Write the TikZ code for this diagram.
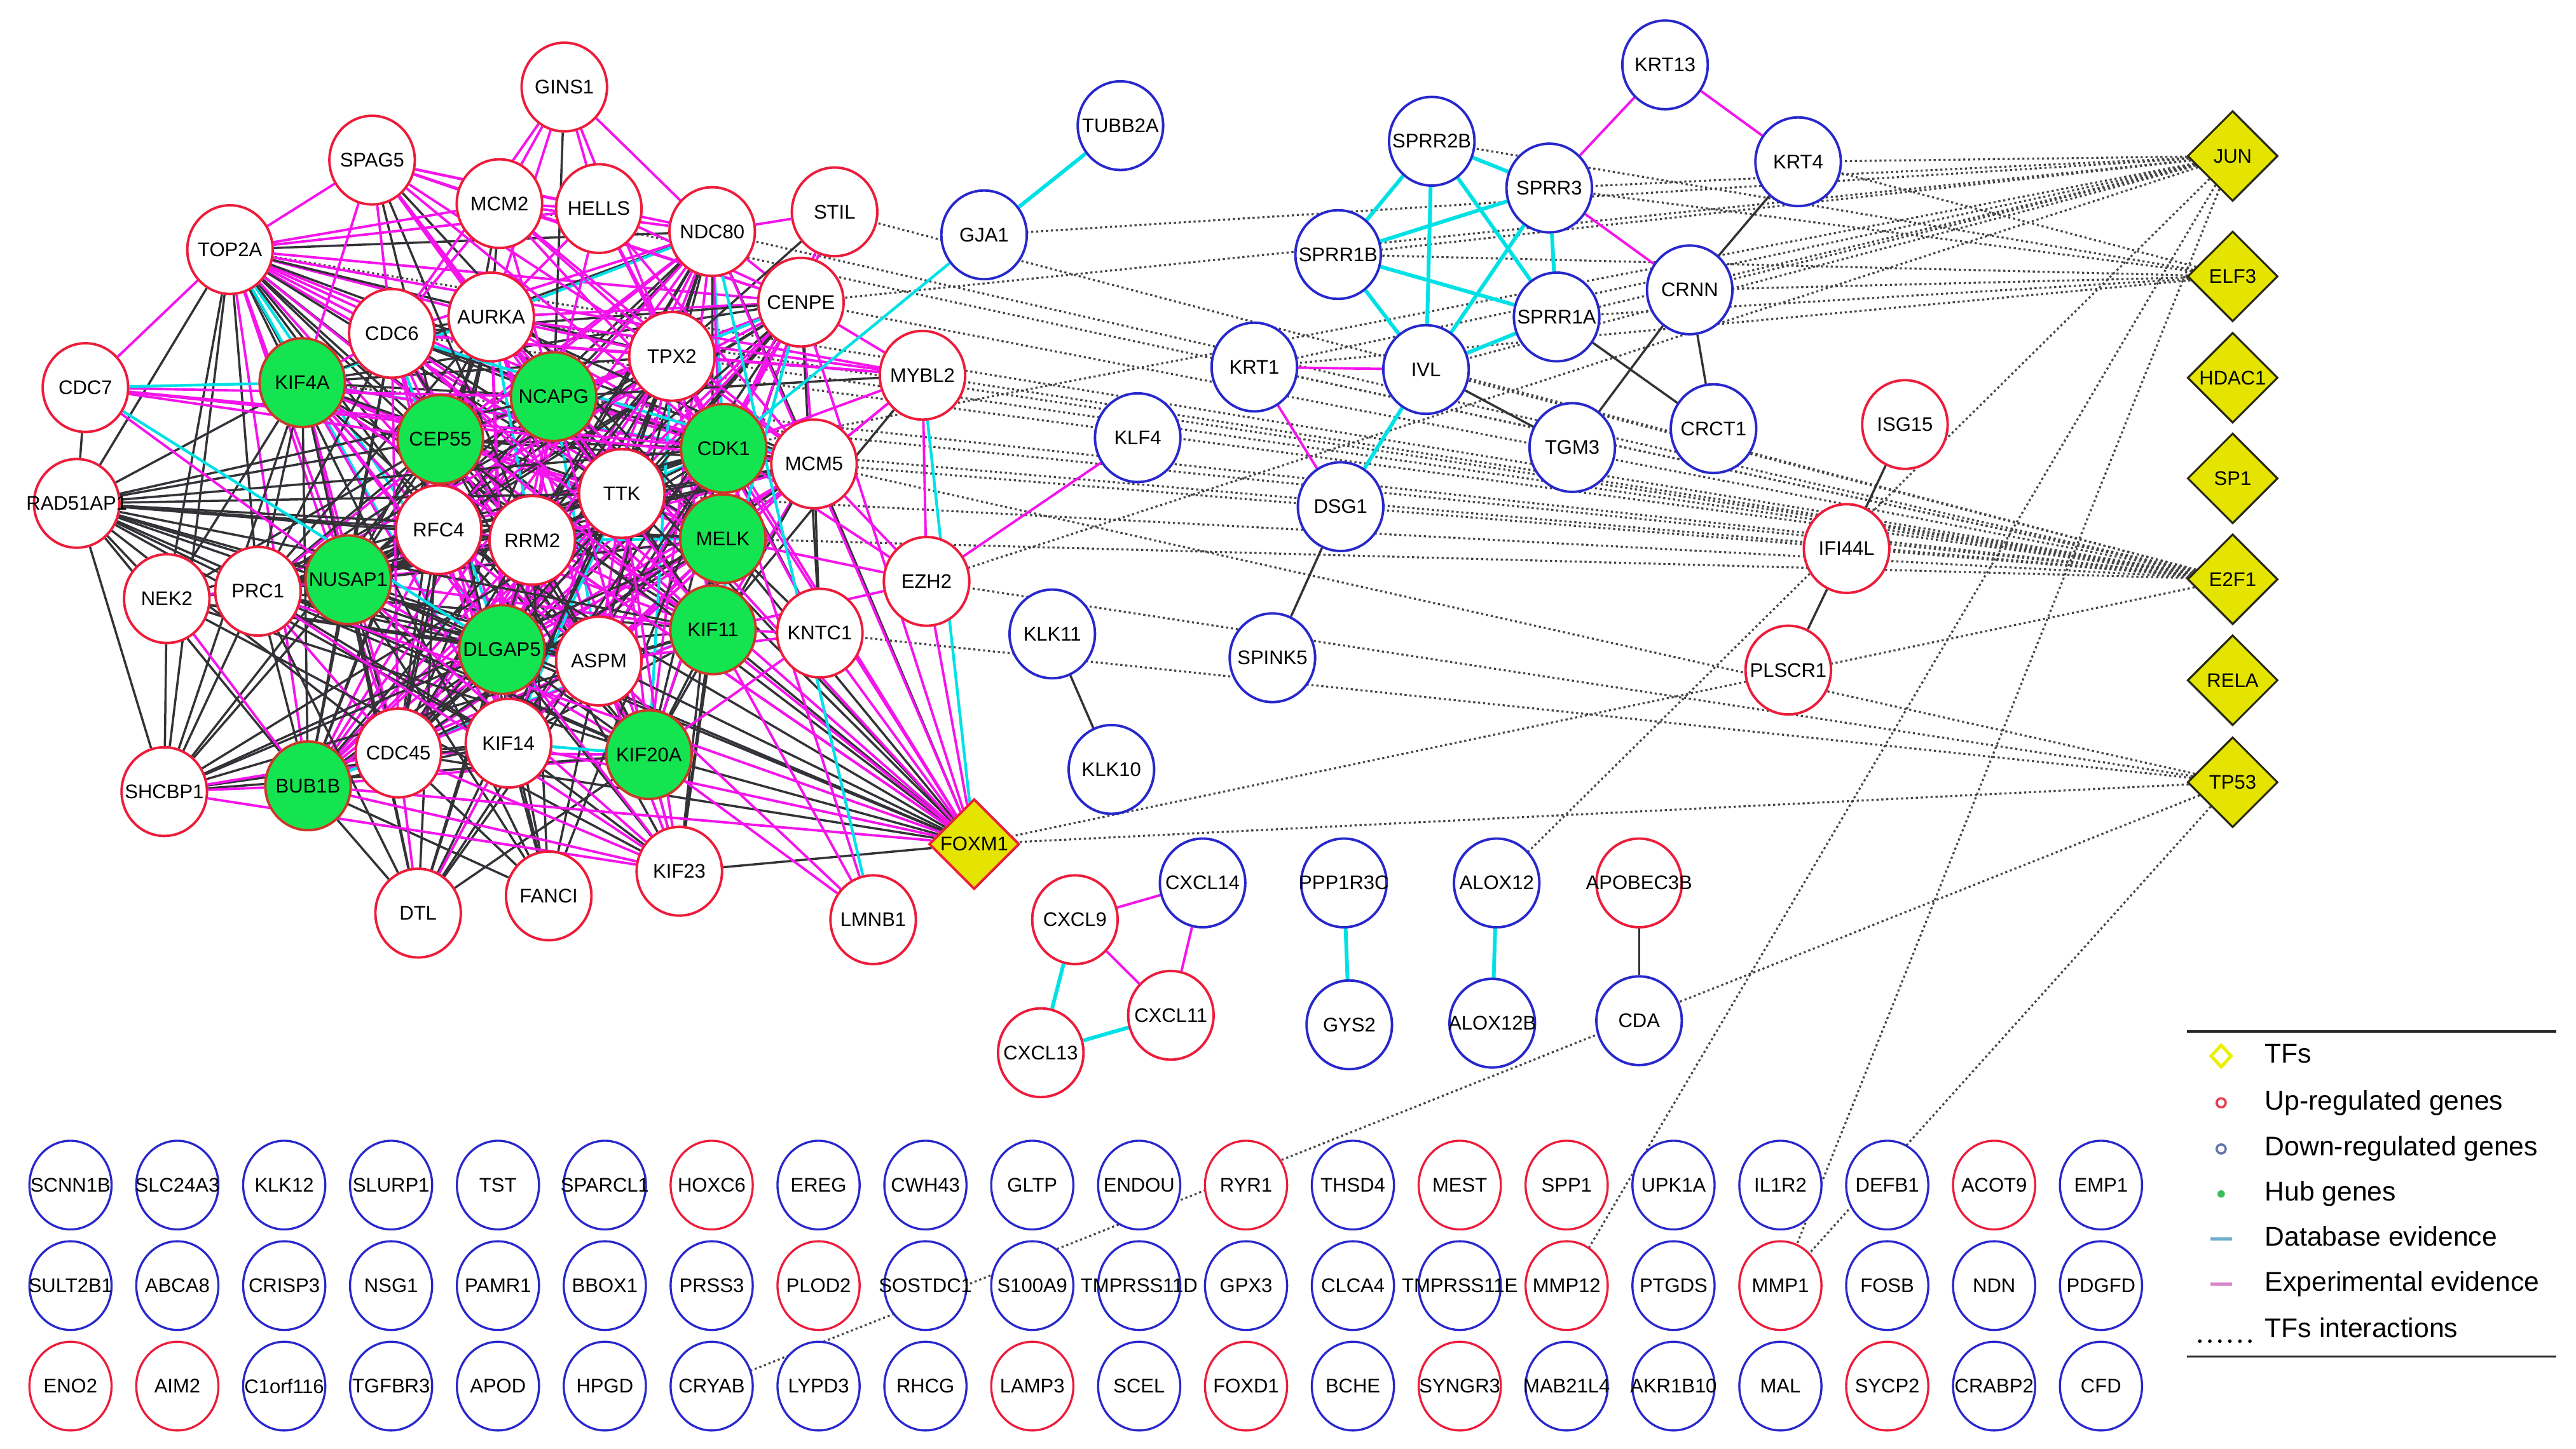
\documentclass[tikz,border=0pt]{standalone}
\usepackage{fontspec}
\setmainfont{Liberation Sans}
\usetikzlibrary{shapes.geometric}
\pgfdeclarelayer{bg}\pgfdeclarelayer{dots}\pgfdeclarelayer{edges}
\pgfsetlayers{bg,dots,edges,main}
\definecolor{upred}{RGB}{237,28,58}
\definecolor{downblue}{RGB}{40,40,205}
\definecolor{hubgreen}{RGB}{20,228,80}
\definecolor{hubborder}{RGB}{205,55,40}
\definecolor{tfyellow}{RGB}{228,228,0}
\definecolor{tfborder}{RGB}{40,40,20}
\definecolor{edgemag}{RGB}{245,20,235}
\definecolor{edgecyan}{RGB}{0,225,230}
\definecolor{edgegrey}{RGB}{50,50,55}
\definecolor{dotgrey}{RGB}{70,70,70}
\definecolor{legyellow}{RGB}{235,240,0}
\definecolor{legred}{RGB}{230,60,80}
\definecolor{legblue}{RGB}{100,120,170}
\definecolor{leggreen}{RGB}{60,190,90}
\definecolor{legcyan}{RGB}{110,175,205}
\definecolor{legmag}{RGB}{215,130,200}
\newcommand{\lblsize}{\fontsize{12}{13}\selectfont}
\newcommand{\legsize}{\fontsize{16.5}{18}\selectfont}
\newcommand{\glab}[1]{\makebox[0pt][c]{#1}}
\begin{document}
\begin{tikzpicture}[x=1pt,y=-1pt,
  gene/.style={ellipse, minimum width=52pt, minimum height=54pt, inner sep=0pt, line width=1.5pt, fill=white, font=\lblsize, text=black},
  up/.style={gene, draw=upred},
  down/.style={gene, draw=downblue},
  hub/.style={gene, draw=hubborder, fill=hubgreen},
  tfnode/.style={diamond, minimum width=55pt, minimum height=55pt, inner sep=0pt, line width=1.2pt, draw=tfborder, fill=tfyellow, font=\lblsize},
  foxm/.style={tfnode, draw=upred, line width=1.5pt},
  botgene/.style={ellipse, minimum width=50pt, minimum height=54pt, inner sep=0pt, line width=1.3pt, fill=white, font=\lblsize},
  magE/.style={draw=edgemag, line width=1.5pt},
  greyE/.style={draw=edgegrey, line width=1.35pt},
  cyanE/.style={draw=edgecyan, line width=1.7pt},
  cyanT/.style={draw=edgecyan, line width=2.3pt},
  tfE/.style={draw=dotgrey, line width=1.25pt, dash pattern=on 1.3pt off 1.7pt},
  legtext/.style={anchor=west, font=\legsize, inner sep=0pt, text height=12pt, text depth=3.5pt},
  legline/.style={draw=black!85, line width=1.3pt}
]
\useasboundingbox (0,0) rectangle (1568,882);
\begin{pgfonlayer}{bg}
\fill[white] (0,0) rectangle (1568,882);
\end{pgfonlayer}

% ---------------- left cluster ----------------
\node[up] (GINS1) at (343.5,53) {\glab{GINS1}};
\node[up] (SPAG5) at (226.5,97.5) {\glab{SPAG5}};
\node[up] (MCM2) at (304,124) {\glab{MCM2}};
\node[up] (HELLS) at (364.5,127) {\glab{HELLS}};
\node[up] (NDC80) at (433.5,141) {\glab{NDC80}};
\node[up] (STIL) at (508,129) {\glab{STIL}};
\node[up] (TOP2A) at (140,152) {\glab{TOP2A}};
\node[up] (CENPE) at (487.5,184) {\glab{CENPE}};
\node[up] (CDC6) at (238.5,203) {\glab{CDC6}};
\node[up] (AURKA) at (299,193) {\glab{AURKA}};
\node[up] (TPX2) at (409,217) {\glab{TPX2}};
\node[up] (CDC7) at (52,236) {\glab{CDC7}};
\node[hub] (KIF4A) at (184,233) {\glab{KIF4A}};
\node[hub] (NCAPG) at (337,241.5) {\glab{NCAPG}};
\node[hub] (CEP55) at (268,267.5) {\glab{CEP55}};
\node[hub] (CDK1) at (440.5,273) {\glab{CDK1}};
\node[up] (MYBL2) at (561.5,228.5) {\glab{MYBL2}};
\node[up] (MCM5) at (495.5,282.5) {\glab{MCM5}};
\node[up] (TTK) at (378.5,300.5) {\glab{TTK}};
\node[up] (RAD51AP) at (46.7,306.5) {\glab{RAD51AP1}};
\node[up] (RFC4) at (267,322.5) {\glab{RFC4}};
\node[up] (RRM2) at (324,329) {\glab{RRM2}};
\node[hub] (MELK) at (440,328) {\glab{MELK}};
\node[up] (NEK2) at (101.5,364.5) {\glab{NEK2}};
\node[up] (PRC1) at (157,360) {\glab{PRC1}};
\node[hub] (NUSAP1) at (212,353) {\glab{NUSAP1}};
\node[up] (EZH2) at (564,354) {\glab{EZH2}};
\node[hub] (KIF11) at (434,383.5) {\glab{KIF11}};
\node[up] (KNTC1) at (499,385.5) {\glab{KNTC1}};
\node[hub] (DLGAP5) at (305.5,395.5) {\glab{DLGAP5}};
\node[up] (ASPM) at (364.5,402.5) {\glab{ASPM}};
\node[up] (KIF14) at (309.5,452.5) {\glab{KIF14}};
\node[up] (CDC45) at (242.5,458.5) {\glab{CDC45}};
\node[hub] (KIF20A) at (395,459.5) {\glab{KIF20A}};
\node[hub] (BUB1B) at (187.5,478.5) {\glab{BUB1B}};
\node[up] (SHCBP1) at (100,482) {\glab{SHCBP1}};
\node[foxm] (FOXM1) at (593,514) {\glab{FOXM1}};
\node[up] (KIF23) at (413.5,530.5) {\glab{KIF23}};
\node[up] (FANCI) at (334,545.5) {\glab{FANCI}};
\node[up] (DTL) at (254.5,556) {\glab{DTL}};
\node[up] (LMNB1) at (531.5,560) {\glab{LMNB1}};

% ---------------- right / middle ----------------
\node[down] (TUBB2A) at (682,76.5) {\glab{TUBB2A}};
\node[down] (GJA1) at (599,143) {\glab{GJA1}};
\node[down] (SPRR2B) at (871.5,86) {\glab{SPRR2B}};
\node[down] (KRT13) at (1013.5,39.5) {\glab{KRT13}};
\node[down] (SPRR3) at (943,114.5) {\glab{SPRR3}};
\node[down] (KRT4) at (1094.5,98.5) {\glab{KRT4}};
\node[down] (SPRR1B) at (814.5,155) {\glab{SPRR1B}};
\node[down] (SPRR1A) at (947.5,193) {\glab{SPRR1A}};
\node[down] (CRNN) at (1028.5,176.5) {\glab{CRNN}};
\node[down] (KRT1) at (763.5,223.5) {\glab{KRT1}};
\node[down] (IVL) at (868,225) {\glab{IVL}};
\node[down] (TGM3) at (957,272.5) {\glab{TGM3}};
\node[down] (CRCT1) at (1043,261) {\glab{CRCT1}};
\node[down] (KLF4) at (692.5,266.5) {\glab{KLF4}};
\node[down] (DSG1) at (816,308.5) {\glab{DSG1}};
\node[down] (KLK11) at (640.5,386) {\glab{KLK11}};
\node[down] (SPINK5) at (774.5,400.5) {\glab{SPINK5}};
\node[down] (KLK10) at (676.5,468.5) {\glab{KLK10}};
\node[up] (ISG15) at (1159.5,258.5) {\glab{ISG15}};
\node[up] (IFI44L) at (1124,334) {\glab{IFI44L}};
\node[up] (PLSCR1) at (1088.5,408) {\glab{PLSCR1}};

\node[tfnode] (JUN) at (1359,95) {\glab{JUN}};
\node[tfnode] (ELF3) at (1359,168.3) {\glab{ELF3}};
\node[tfnode] (HDAC1) at (1359,230) {\glab{HDAC1}};
\node[tfnode] (SP1) at (1359,291.3) {\glab{SP1}};
\node[tfnode] (E2F1) at (1359,352.7) {\glab{E2F1}};
\node[tfnode] (RELA) at (1359,414.2) {\glab{RELA}};
\node[tfnode] (TP53) at (1359,476.3) {\glab{TP53}};

\node[down] (CXCL14) at (732,537.6) {\glab{CXCL14}};
\node[up] (CXCL9) at (654.3,560) {\glab{CXCL9}};
\node[up] (CXCL11) at (712.7,618.2) {\glab{CXCL11}};
\node[up] (CXCL13) at (633.5,641) {\glab{CXCL13}};
\node[down] (PPP1R3C) at (818,537.6) {\glab{PPP1R3C}};
\node[down] (GYS2) at (821.3,624) {\glab{GYS2}};
\node[down] (ALOX12) at (911,537.6) {\glab{ALOX12}};
\node[down] (ALOX12B) at (908.3,623) {\glab{ALOX12B}};
\node[up] (APOBEC3B) at (997.7,537.6) {\glab{APOBEC3B}};
\node[down] (CDA) at (997.7,621.5) {\glab{CDA}};

% ---------------- bottom rows ----------------
\foreach \n/\cl [count=\k from 0] in {SCNN1B/downblue, SLC24A3/downblue, KLK12/downblue, SLURP1/downblue, TST/downblue, SPARCL1/downblue, HOXC6/upred, EREG/downblue, CWH43/downblue, GLTP/downblue, ENDOU/downblue, RYR1/upred, THSD4/downblue, MEST/upred, SPP1/upred, UPK1A/downblue, IL1R2/downblue, DEFB1/downblue, ACOT9/upred, EMP1/downblue}
  \node[botgene, draw=\cl] (\n) at ({42.9+65.05*\k},721.6) {\glab{\n}};
\foreach \n/\cl [count=\k from 0] in {SULT2B1/downblue, ABCA8/downblue, CRISP3/downblue, NSG1/downblue, PAMR1/downblue, BBOX1/downblue, PRSS3/downblue, PLOD2/upred, SOSTDC1/downblue, S100A9/downblue, TMPRSS11D/downblue, GPX3/downblue, CLCA4/downblue, TMPRSS11E/downblue, MMP12/upred, PTGDS/downblue, MMP1/upred, FOSB/downblue, NDN/downblue, PDGFD/downblue}
  \node[botgene, draw=\cl] (\n) at ({42.9+65.05*\k},782.8) {\glab{\n}};
\foreach \n/\cl [count=\k from 0] in {ENO2/upred, AIM2/upred, C1orf116/downblue, TGFBR3/downblue, APOD/downblue, HPGD/downblue, CRYAB/downblue, LYPD3/downblue, RHCG/downblue, LAMP3/upred, SCEL/downblue, FOXD1/upred, BCHE/downblue, SYNGR3/upred, MAB21L4/downblue, AKR1B10/downblue, MAL/downblue, SYCP2/upred, CRABP2/downblue, CFD/downblue}
  \node[botgene, draw=\cl] (\n) at ({42.9+65.05*\k},844) {\glab{\n}};

% ---------------- TF interactions (dotted) ----------------
\begin{pgfonlayer}{dots}
\foreach \a/\b in {JUN/KRT4, JUN/SPRR3, JUN/SPRR1B, JUN/GJA1, JUN/CRNN, JUN/SPRR1A, JUN/IVL, JUN/KRT1, JUN/CDK1, JUN/CENPE, JUN/EZH2, JUN/ALOX12, JUN/MMP12, JUN/MMP1,
  ELF3/KRT4, ELF3/SPRR3, ELF3/SPRR2B, ELF3/SPRR1B, ELF3/CRNN, ELF3/SPRR1A, ELF3/KRT1,
  E2F1/MYBL2, E2F1/MCM5, E2F1/CDK1, E2F1/CENPE, E2F1/STIL, E2F1/NDC80, E2F1/TOP2A, E2F1/CDC6, E2F1/AURKA, E2F1/TPX2, E2F1/TTK, E2F1/MELK, E2F1/MCM2, E2F1/NCAPG, E2F1/KIF4A, E2F1/IVL, E2F1/KRT1, E2F1/FOXM1,
  TP53/MCM5, TP53/EZH2, TP53/KNTC1, TP53/FOXM1, TP53/MMP1, TP53/CRYAB}
  \draw[tfE] (\a) -- (\b);
\end{pgfonlayer}

% ---------------- solid edges ----------------
\begin{pgfonlayer}{edges}
\foreach \a [count=\i] in {TOP2A,KIF4A,CEP55,NCAPG,CDK1,MELK,KIF11,KIF20A,DLGAP5,NUSAP1,BUB1B,TTK,RRM2,RFC4,ASPM,AURKA,CDC6,TPX2,PRC1,KIF14,CDC45,CENPE,NDC80,MCM5}{
  \foreach \b [count=\j] in {TOP2A,KIF4A,CEP55,NCAPG,CDK1,MELK,KIF11,KIF20A,DLGAP5,NUSAP1,BUB1B,TTK,RRM2,RFC4,ASPM,AURKA,CDC6,TPX2,PRC1,KIF14,CDC45,CENPE,NDC80,MCM5}{
    \ifnum\j>\i\relax
      \pgfmathtruncatemacro\hcol{mod(\i*\j+3*\i+\j,11)}
      \ifnum\hcol<5\relax \draw[magE] (\a) -- (\b);
      \else\ifnum\hcol<10\relax \draw[greyE] (\a) -- (\b);
      \else \draw[cyanE] (\a) -- (\b);
      \fi\fi
    \fi
  }
}
\foreach \a/\b in {GINS1/NCAPG, SPAG5/CEP55, SPAG5/MELK, SPAG5/RRM2, MCM2/AURKA, MCM2/RFC4, STIL/TPX2, CDC7/RAD51AP,
  RAD51AP/TOP2A, RAD51AP/NEK2, RAD51AP/SHCBP1, RAD51AP/KIF4A, RAD51AP/CEP55, RAD51AP/NCAPG, RAD51AP/CDK1, RAD51AP/MELK, RAD51AP/NUSAP1, RAD51AP/DLGAP5, RAD51AP/RFC4, RAD51AP/RRM2, RAD51AP/TTK, RAD51AP/KIF11, RAD51AP/BUB1B, RAD51AP/PRC1, RAD51AP/ASPM, RAD51AP/KIF20A, RAD51AP/KIF14, RAD51AP/CDC45,
  NEK2/SHCBP1, NEK2/PRC1, NEK2/KIF4A, NEK2/CEP55, NEK2/DLGAP5, NEK2/KIF20A, NEK2/TOP2A, NEK2/CDK1, NEK2/ASPM, NEK2/KIF23,
  SHCBP1/PRC1, SHCBP1/NUSAP1, SHCBP1/KIF4A, SHCBP1/CEP55, SHCBP1/DLGAP5, SHCBP1/KIF14, SHCBP1/KIF20A, SHCBP1/CDK1, SHCBP1/TOP2A, SHCBP1/MELK, SHCBP1/KIF11,
  DTL/BUB1B, DTL/NUSAP1, DTL/DLGAP5, DTL/CEP55, DTL/RRM2, DTL/KIF4A, DTL/TTK, DTL/ASPM, DTL/CDK1, DTL/KIF20A, DTL/PRC1,
  FANCI/BUB1B, FANCI/CDC45, FANCI/DLGAP5, FANCI/NUSAP1, FANCI/RRM2, FANCI/CDK1, FANCI/KIF14, FANCI/ASPM, FANCI/TOP2A, FANCI/CEP55,
  KIF23/KIF20A, KIF23/KIF11, KIF23/KIF14, KIF23/DLGAP5, KIF23/CDK1, KIF23/MELK, KIF23/CEP55, KIF23/FOXM1,
  MYBL2/NCAPG, MYBL2/KIF11, KNTC1/MCM5, KNTC1/CDK1, KNTC1/MELK, KNTC1/CENPE,
  FOXM1/MCM5, FOXM1/KIF20A, FOXM1/ASPM, FOXM1/DLGAP5, FOXM1/NUSAP1, FOXM1/CEP55, FOXM1/KIF11, FOXM1/MELK, FOXM1/CDC45, FOXM1/TTK, FOXM1/RFC4, FOXM1/NCAPG,
  KRT4/CRNN, CRNN/TGM3, CRNN/CRCT1, SPRR1A/CRCT1, IVL/TGM3, DSG1/SPINK5, KLK11/KLK10, ISG15/IFI44L, IFI44L/PLSCR1, APOBEC3B/CDA}
  \draw[greyE] (\a) -- (\b);
\foreach \a/\b in {GINS1/MCM2, GINS1/AURKA, GINS1/HELLS, GINS1/TPX2, GINS1/CDC6, GINS1/NDC80,
  SPAG5/TOP2A, SPAG5/CDC6, SPAG5/KIF4A, SPAG5/AURKA, SPAG5/NCAPG, SPAG5/CDK1, SPAG5/TTK, SPAG5/NDC80, SPAG5/CENPE, SPAG5/KIF11, SPAG5/TPX2, SPAG5/MCM2, SPAG5/HELLS,
  MCM2/NCAPG, MCM2/CDC6, MCM2/CDK1, MCM2/TPX2, MCM2/MCM5, MCM2/CENPE, MCM2/TOP2A, MCM2/HELLS, MCM2/NDC80,
  HELLS/TPX2, HELLS/CDK1, HELLS/NCAPG, HELLS/CENPE, HELLS/MCM5, HELLS/AURKA, HELLS/TOP2A,
  STIL/CENPE, STIL/CDK1, STIL/NDC80,
  CDC7/TOP2A, CDC7/CEP55, CDC7/NUSAP1, CDC7/CDK1, CDC7/MCM5, CDC7/NCAPG,
  NEK2/BUB1B, NEK2/NUSAP1, SHCBP1/BUB1B, SHCBP1/CDC45, SHCBP1/KIF23, DTL/KIF14, DTL/CDC45,
  KIF23/ASPM, KIF23/NUSAP1, KIF23/BUB1B, KIF23/PRC1, KIF23/TTK, KIF23/CDC45, KIF23/KIF4A, KIF23/NCAPG,
  LMNB1/KIF11, LMNB1/KIF20A, LMNB1/CDK1, LMNB1/ASPM,
  MYBL2/CDK1, MYBL2/MCM5, MYBL2/CENPE, MYBL2/TPX2, MYBL2/TOP2A, MYBL2/AURKA, MYBL2/MELK, MYBL2/CDC6,
  EZH2/MCM5, EZH2/CDK1, EZH2/MELK, EZH2/KIF11, EZH2/KLF4, EZH2/FOXM1, EZH2/MYBL2,
  KNTC1/KIF11, KNTC1/KIF20A, KNTC1/FOXM1, KNTC1/ASPM, KNTC1/TPX2,
  FOXM1/CDK1, FOXM1/BUB1B, FOXM1/PRC1, FOXM1/KIF14, FOXM1/AURKA, FOXM1/TOP2A, FOXM1/RRM2, FOXM1/CDC6, FOXM1/KIF4A, FOXM1/TPX2, FOXM1/NDC80, FOXM1/CENPE,
  SPRR3/KRT13, SPRR3/CRNN, KRT13/KRT4, KRT1/IVL, KRT1/DSG1, CXCL9/CXCL14, CXCL14/CXCL11, CXCL9/CXCL11}
  \draw[magE] (\a) -- (\b);
\foreach \a/\b in {CDC7/KIF4A, CDC7/DLGAP5, NDC80/LMNB1, MYBL2/FOXM1, GJA1/CDK1, CENPE/KIF11, KIF14/KIF20A}
  \draw[cyanE] (\a) -- (\b);
\foreach \a/\b in {TUBB2A/GJA1, SPRR2B/SPRR3, SPRR2B/SPRR1B, SPRR2B/IVL, SPRR2B/SPRR1A, SPRR3/SPRR1B, SPRR3/SPRR1A, SPRR3/IVL, SPRR1B/IVL, SPRR1B/SPRR1A, SPRR1A/IVL, IVL/DSG1, CXCL9/CXCL13, CXCL13/CXCL11, PPP1R3C/GYS2, ALOX12/ALOX12B}
  \draw[cyanT] (\a) -- (\b);
\end{pgfonlayer}

% ---------------- legend ----------------
\draw[legline] (1331,628) -- (1556,628);
\draw[legline] (1331,826) -- (1556,826);
\node[diamond, draw=legyellow, line width=2pt, minimum width=13pt, minimum height=14pt, inner sep=0pt] (lgTF) at (1352,643) {};
\node[legtext] (lgTFt) at (1378.5,643) {TFs};
\node[circle, draw=legred, line width=1.4pt, minimum size=5.5pt, inner sep=0pt] (lgUp) at (1352,671.5) {};
\node[legtext] (lgUpt) at (1378.5,671.5) {Up-regulated genes};
\node[circle, draw=legblue, line width=1.4pt, minimum size=5.5pt, inner sep=0pt] (lgDn) at (1352,699.6) {};
\node[legtext] (lgDnt) at (1378.5,699.6) {Down-regulated genes};
\node[circle, fill=leggreen, minimum size=4.5pt, inner sep=0pt] (lgHub) at (1352,727) {};
\node[legtext] (lgHubt) at (1378.5,727) {Hub genes};
\draw[draw=legcyan, line width=2pt] (1345.5,754.3) -- (1358.5,754.3);
\node[legtext] (lgDbt) at (1378.5,754.3) {Database evidence};
\draw[draw=legmag, line width=2pt] (1345.5,781.8) -- (1358.5,781.8);
\node[legtext] (lgExt) at (1378.5,781.8) {Experimental evidence};
\draw[black, line width=2.2pt, line cap=round, dash pattern=on 0pt off 6.1pt] (1339,816.6) -- (1370,816.6);
\node[legtext] (lgTFit) at (1378.5,810) {TFs interactions};
\end{tikzpicture}
\end{document}
